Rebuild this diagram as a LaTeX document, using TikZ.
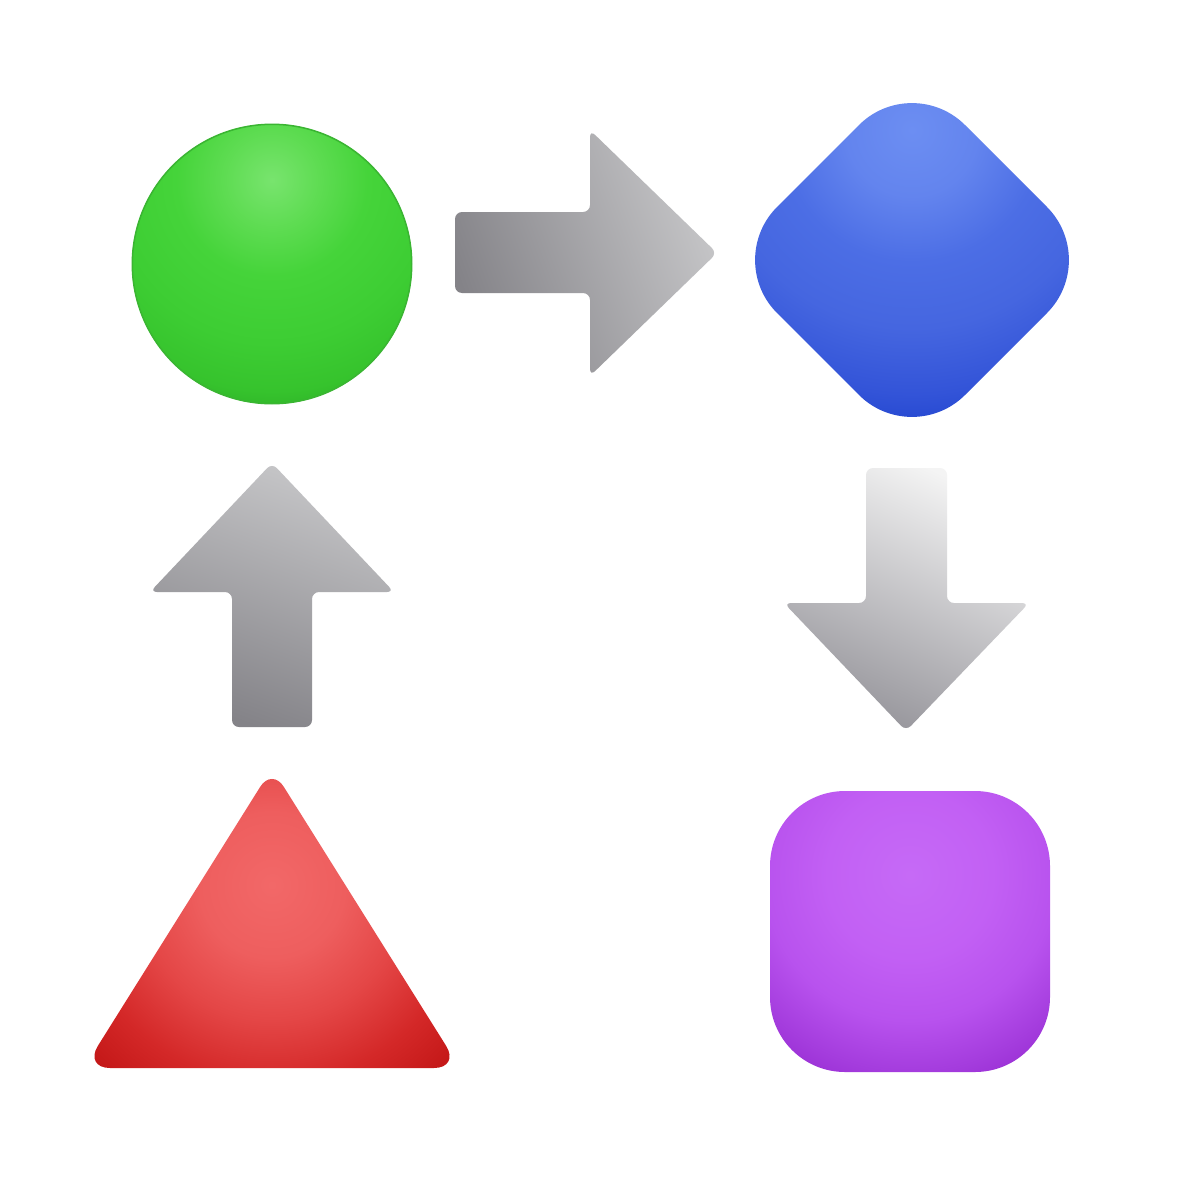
\documentclass[tikz,border=0pt]{standalone}
\usetikzlibrary{calc}
\pgfdeclareradialshading{greensh}{\pgfpoint{0bp}{0bp}}{rgb(0bp)=(0.471,0.894,0.431); rgb(5bp)=(0.369,0.863,0.322); rgb(10bp)=(0.271,0.831,0.227); rgb(17bp)=(0.239,0.804,0.200); rgb(22bp)=(0.212,0.765,0.176); rgb(25bp)=(0.176,0.690,0.153); rgb(50bp)=(0.176,0.690,0.153)}
\pgfdeclareradialshading{bluesh}{\pgfpoint{0bp}{0bp}}{rgb(0bp)=(0.424,0.557,0.949); rgb(5bp)=(0.388,0.518,0.933); rgb(10bp)=(0.298,0.431,0.898); rgb(15bp)=(0.271,0.400,0.878); rgb(20bp)=(0.200,0.329,0.847); rgb(23bp)=(0.133,0.271,0.812); rgb(25bp)=(0.106,0.235,0.784); rgb(50bp)=(0.106,0.235,0.784)}
\pgfdeclareradialshading{purplesh}{\pgfpoint{0bp}{0bp}}{rgb(0bp)=(0.776,0.416,0.965); rgb(8bp)=(0.761,0.376,0.957); rgb(14bp)=(0.722,0.322,0.933); rgb(19bp)=(0.643,0.235,0.867); rgb(23bp)=(0.580,0.157,0.812); rgb(25bp)=(0.541,0.118,0.784); rgb(50bp)=(0.541,0.118,0.784)}
\pgfdeclareradialshading{redsh}{\pgfpoint{0bp}{0bp}}{rgb(0bp)=(0.949,0.408,0.408); rgb(7bp)=(0.933,0.369,0.369); rgb(13bp)=(0.894,0.275,0.275); rgb(19bp)=(0.831,0.157,0.157); rgb(24bp)=(0.769,0.094,0.094); rgb(25bp)=(0.753,0.078,0.078); rgb(50bp)=(0.753,0.078,0.078)}
\definecolor{gRim}{HTML}{3AB532}
\definecolor{aDark}{HTML}{848388}\definecolor{aLight}{HTML}{C6C6C8}\definecolor{aWhite}{HTML}{F4F4F4}\definecolor{aMid}{HTML}{95949A}
\tikzset{arrowshape/.style={rounded corners=0.7mm}}
\begin{document}
\begin{tikzpicture}[x=0.01cm,y=-0.01cm]
\useasboundingbox[fill=white] (0,0) rectangle (1200,1200);
% green circle
\coordinate (circ) at (272,264);
\begin{scope}
\clip (circ) circle (140);
\shade[shading=greensh] (272,180) circle (240);
\end{scope}
\draw[gRim, line width=0.15mm] (circ) circle (139.7);
% right arrow
\shade[arrowshape, left color=aDark, right color=aLight, shading angle=110]
  (455,252) -- (455,212) -- (590,212) -- (590,130) -- (717,253) -- (590,376) -- (590,293) -- (455,293) -- cycle;
% blue diamond
\coordinate (diam) at (912,260);
\begin{scope}
\clip[rounded corners=7.5mm] (912,72) -- (1100,260) -- (912,448) -- (724,260) -- cycle;
\shade[shading=bluesh] (912,130) circle (330);
\end{scope}
% down arrow
\shade[arrowshape, top color=aWhite, bottom color=aMid, shading angle=-25]
  (906,468) -- (947,468) -- (947,603) -- (1029,603) -- (906,731) -- (784,603) -- (866,603) -- (866,468) -- cycle;
% purple square
\begin{scope}
\clip[rounded corners=7.5mm] (770,791) rectangle (1050,1072);
\shade[shading=purplesh] (910,875) circle (260);
\end{scope}
% up arrow
\shade[arrowshape, top color=aLight, bottom color=aDark, shading angle=-20]
  (272,727) -- (232,727) -- (232,592) -- (150,592) -- (272,463) -- (394,592) -- (312,592) -- (312,727) -- cycle;
% red triangle
\coordinate (T) at (272,768);
\coordinate (L) at (84,1068);
\coordinate (R) at (460,1068);
\coordinate (t1) at ($(T)!0.22cm!(L)$);
\coordinate (t2) at ($(T)!0.22cm!(R)$);
\coordinate (l1) at ($(L)!0.26cm!(T)$);
\coordinate (l2) at ($(L)!0.26cm!(R)$);
\coordinate (r1) at ($(R)!0.26cm!(L)$);
\coordinate (r2) at ($(R)!0.26cm!(T)$);
\begin{scope}
\clip (l2) -- (r1) .. controls ($(r1)!0.55!(R)$) and ($(r2)!0.55!(R)$) .. (r2)
  -- (t2) .. controls ($(t2)!0.55!(T)$) and ($(t1)!0.55!(T)$) .. (t1)
  -- (l1) .. controls ($(l1)!0.55!(L)$) and ($(l2)!0.55!(L)$) .. (l2) -- cycle;
\shade[shading=redsh] (272,885) circle (260);
\end{scope}
\end{tikzpicture}
\end{document}
